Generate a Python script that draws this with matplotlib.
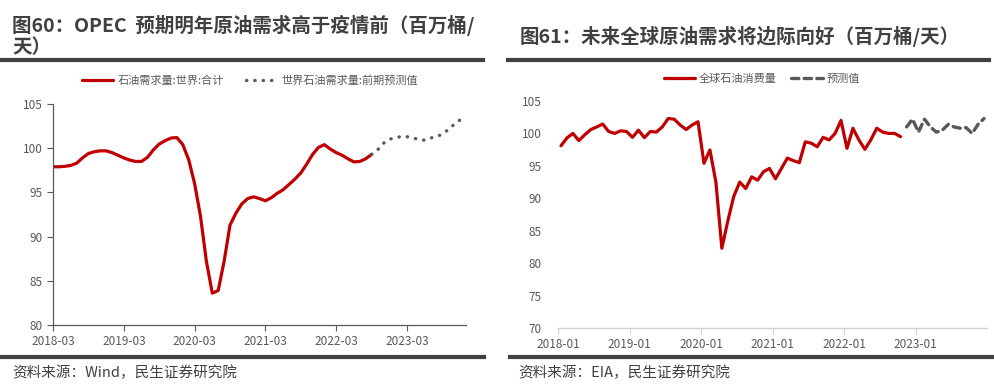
import matplotlib
matplotlib.use("Agg")
import matplotlib.pyplot as plt
from matplotlib.lines import Line2D

plt.rcParams['font.family'] = ['Noto Sans CJK SC', 'DejaVu Sans']

# ---------------- data: left chart (monthly positions from 2018-03) ----------------
left_title = "图60：OPEC  预期明年原油需求高于疫情前（百万桶/\n天）"
left_series = "石油需求量:世界:合计"
left_fc_series = "世界石油需求量:前期预测值"
left_xticklabels = ["2018-03", "2019-03", "2020-03", "2021-03", "2022-03", "2023-03"]
left_yticks = [80, 85, 90, 95, 100, 105]
left_actual = [97.9, 97.9, 97.95, 98.05, 98.3, 98.9, 99.4, 99.6, 99.7, 99.7, 99.5, 99.2,
               98.9, 98.66, 98.5, 98.5, 98.96, 99.8, 100.47, 100.85, 101.15, 101.2, 100.4, 98.7,
               96.0, 92.3, 87.2, 83.6, 83.9, 87.2, 91.3, 92.65, 93.7, 94.3, 94.5, 94.3,
               94.05, 94.4, 94.9, 95.3, 95.9, 96.5, 97.2, 98.2, 99.3, 100.1, 100.4, 99.9,
               99.5, 99.2, 98.8, 98.45, 98.5, 98.8, 99.3]
left_forecast = [99.3, 99.8, 100.55, 101.0, 101.2, 101.3, 101.3, 101.15, 101.0, 100.9,
                 101.15, 101.3, 101.6, 102.1, 102.7, 103.2]
left_source = "资料来源：Wind，民生证券研究院"

# ---------------- data: right chart (monthly from 2018-01) ----------------
right_title = "图61：未来全球原油需求将边际向好（百万桶/天）"
right_series = "全球石油消费量"
right_fc_series = "预测值"
right_xticklabels = ["2018-01", "2019-01", "2020-01", "2021-01", "2022-01", "2023-01"]
right_yticks = [70, 75, 80, 85, 90, 95, 100, 105]
right_actual = [98.1, 99.3, 100.0, 98.9, 99.8, 100.6, 101.0, 101.45, 100.3, 100.0, 100.4, 100.3,
                99.4, 100.5, 99.35, 100.3, 100.2, 101.0, 102.3, 102.2, 101.3, 100.6, 101.3, 101.8,
                95.4, 97.45, 92.5, 82.3, 86.5, 90.3, 92.5, 91.5, 93.3, 92.8, 94.1, 94.6,
                93.0, 94.6, 96.2, 95.8, 95.5, 98.7, 98.5, 97.95, 99.4, 99.0, 100.0, 102.0,
                97.7, 100.8, 99.0, 97.55, 99.0, 100.8, 100.2, 100.0, 100.0, 99.5]
right_forecast = [101.0, 102.2, 100.2, 102.2, 101.0, 100.2, 100.5, 101.4, 101.0, 100.8,
                  100.9, 100.0, 101.4, 102.3]
right_source = "资料来源：EIA，民生证券研究院"

RED = "#C00000"
DARK = "#404040"
GRAY_TXT = "#595959"

W, H = 994, 390
fig = plt.figure(figsize=(W / 100, H / 100), dpi=100)
fig.patch.set_facecolor("white")


def px(x, y):
    return x / W, 1 - y / H


def hline(x0, x1, y, lw=3.0, color=DARK):
    fig.add_artist(Line2D([x0 / W, x1 / W], [1 - y / H, 1 - y / H], color=color,
                          lw=lw, transform=fig.transFigure))


# ---------------- titles and frames ----------------
fig.text(*px(12, 36), left_title, fontsize=14, fontweight='bold', color=DARK,
         ha='left', va='center', linespacing=1.15)
fig.text(*px(520, 36), right_title, fontsize=14, fontweight='bold', color=DARK,
         ha='left', va='center')
hline(0, 483, 59.5)
hline(508, 989, 59.5)
hline(0, 484, 357)
hline(510, 994, 357)
fig.text(*px(12, 373), left_source, fontsize=10.5, color=DARK, ha='left', va='center')
fig.text(*px(518, 373), right_source, fontsize=10.5, color=DARK, ha='left', va='center')

# ---------------- left chart ----------------
axL = fig.add_axes([53 / W, 1 - 325 / H, (466 - 53) / W, (325 - 104) / H])
xa = list(range(len(left_actual)))
xf = list(range(len(left_actual) - 1, len(left_actual) - 1 + len(left_forecast)))
axL.plot(xa, left_actual, color=RED, lw=2.3, solid_capstyle='round', solid_joinstyle='round',
         label=left_series)
axL.plot(xf, left_forecast, color="#595959", lw=2.4, linestyle=(0, (0.1, 2.4)),
         dash_capstyle='round', label=left_fc_series)
axL.set_xlim(0, 70)
axL.set_ylim(80, 105)
axL.set_yticks(left_yticks)
axL.set_xticks([12 * i for i in range(len(left_xticklabels))])
axL.set_xticklabels(left_xticklabels)
for s in ['top', 'right']:
    axL.spines[s].set_visible(False)
for s in ['left', 'bottom']:
    axL.spines[s].set_color("#595959")
    axL.spines[s].set_linewidth(0.9)
axL.tick_params(axis='both', colors="#595959", labelcolor=GRAY_TXT, labelsize=8.5,
                length=4, width=0.8)
axL.tick_params(axis='x', pad=3)
axL.legend(loc='center', bbox_to_anchor=(250 / W, 1 - 81 / H), bbox_transform=fig.transFigure,
           ncol=2, frameon=False, fontsize=8, handlelength=2.8, handletextpad=0.4,
           columnspacing=2.0, labelcolor=GRAY_TXT)

# ---------------- right chart ----------------
axR = fig.add_axes([558 / W, 1 - 328 / H, (987 - 558) / W, (328 - 101) / H])
ra = list(range(len(right_actual)))
rf = list(range(len(right_actual), len(right_actual) + len(right_forecast)))
axR.plot(ra, right_actual, color=RED, lw=2.3, solid_capstyle='round', solid_joinstyle='round',
         label=right_series)
axR.plot(rf, right_forecast, color="#595959", lw=2.4, linestyle=(0, (2.2, 1.6)),
         dash_capstyle='round', label=right_fc_series)
axR.set_xlim(-0.5, 71.5)
axR.set_ylim(70, 105)
axR.set_yticks(right_yticks)
axR.set_xticks([12 * i - 0.5 for i in range(len(right_xticklabels))])
axR.set_xticklabels(right_xticklabels)
for s in ['top', 'right', 'left']:
    axR.spines[s].set_visible(False)
axR.spines['bottom'].set_color("#d0d0d0")
axR.spines['bottom'].set_linewidth(1.0)
axR.tick_params(axis='y', length=0, pad=12, labelcolor=GRAY_TXT, labelsize=8.5)
axR.tick_params(axis='x', length=4, width=0.8, colors="#d0d0d0", labelcolor=GRAY_TXT,
                labelsize=8.5, pad=3)
axR.legend(loc='center', bbox_to_anchor=(762 / W, 1 - 79 / H), bbox_transform=fig.transFigure,
           ncol=2, frameon=False, fontsize=8, handlelength=2.8, handletextpad=0.4,
           columnspacing=1.3, labelcolor=GRAY_TXT)

fig.savefig("out.png", dpi=100, facecolor="white")
